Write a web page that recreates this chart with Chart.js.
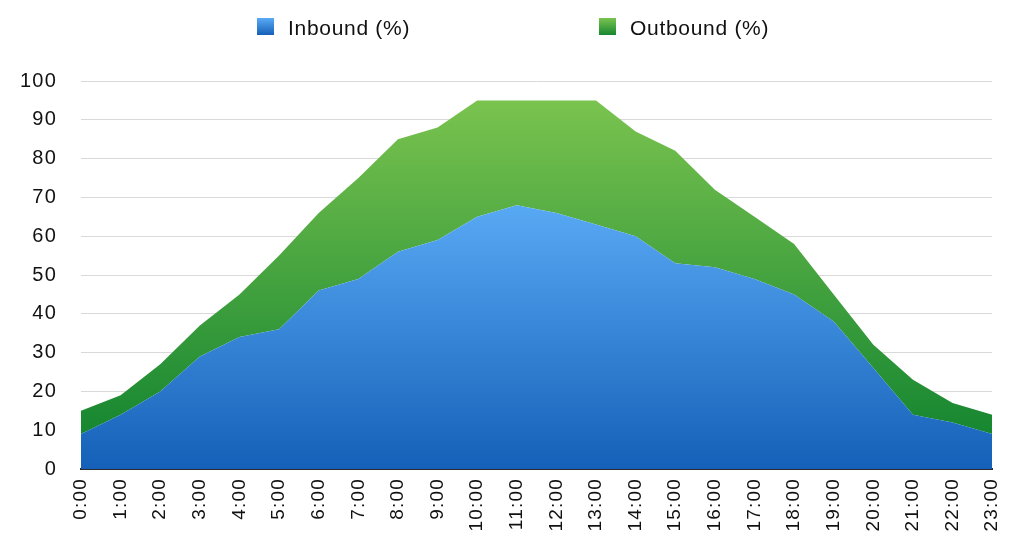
<!DOCTYPE html>
<html lang="en">
<head>
<meta charset="utf-8">
<title>Inbound / Outbound</title>
<script src="https://cdn.jsdelivr.net/npm/chart.js@4.4.1/dist/chart.umd.min.js"></script>
<style>
  html, body { margin: 0; padding: 0; background: #fff; }
  #wrap { position: relative; width: 1024px; height: 549px; }
  #legend { position: absolute; left: 0; top: 16px; width: 1024px; height: 24px;
    font-family: "Liberation Sans", Arial, sans-serif; font-size: 21px; letter-spacing: 0.7px; color: #111; }
  .item { position: absolute; top: 0; white-space: nowrap; line-height: 24px; }
  .box { position: absolute; top: 2px; left: 0; width: 17px; height: 17px; }
  .lbl { position: absolute; left: 31px; top: 0; }
</style>
</head>
<body>
<div id="wrap">
  <canvas id="c" width="1024" height="549"></canvas>
  <div id="legend"></div>
</div>
<script>
// data
var hours = ["0:00","1:00","2:00","3:00","4:00","5:00","6:00","7:00","8:00","9:00","10:00","11:00",
             "12:00","13:00","14:00","15:00","16:00","17:00","18:00","19:00","20:00","21:00","22:00","23:00"];
var inbound  = [9, 14, 20, 29, 34, 36, 46, 49, 56, 59, 65, 68, 66, 63, 60, 53, 52, 49, 45, 38, 26, 14, 12, 9];
var outbound = [6, 5, 7, 8, 11, 19, 20, 26, 29, 29, 30, 27, 29, 32, 27, 29, 20, 16, 13, 7, 6, 9, 5, 5];
var seriesNames = ["Inbound (%)", "Outbound (%)"];
var yTicks = [0, 10, 20, 30, 40, 50, 60, 70, 80, 90, 100];

var blueTop = "#5aabf6", blueBottom = "#1560b8";
var greenTop = "#7ac34f", greenBottom = "#178731";
var fontFam = "'Liberation Sans', Arial, sans-serif";

// gradient spanning given values on the y scale
function grad(ctx, fromVal, toVal, cTop, cBottom) {
  var chart = ctx.chart;
  var y = chart.scales.y;
  if (!y || !chart.chartArea) return cBottom;
  var g = chart.ctx.createLinearGradient(0, y.getPixelForValue(fromVal), 0, y.getPixelForValue(toVal));
  g.addColorStop(0, cTop);
  g.addColorStop(1, cBottom);
  return g;
}

// a little extra letter spacing, the source font runs wider than Arial
var spacing = {
  id: "spacing",
  beforeLayout: function(c) { c.ctx.letterSpacing = "1.2px"; },
  beforeDraw: function(c) { c.ctx.letterSpacing = "1.2px"; }
};

var ctx = document.getElementById("c").getContext("2d");
var chart = new Chart(ctx, {
  type: "line",
  plugins: [spacing],
  data: {
    labels: hours,
    datasets: [{
      label: seriesNames[0],
      data: inbound,
      fill: "origin",
      borderWidth: 0,
      pointRadius: 0,
      tension: 0,
      backgroundColor: function(c) { return grad(c, 70, 0, blueTop, blueBottom); }
    }, {
      label: seriesNames[1],
      data: outbound,
      fill: "-1",
      borderWidth: 0,
      pointRadius: 0,
      tension: 0,
      backgroundColor: function(c) { return grad(c, 95, 10, greenTop, greenBottom); }
    }]
  },
  options: {
    responsive: false,
    animation: false,
    layout: { padding: { top: 81, right: 31, left: 0, bottom: 0 } },
    plugins: { legend: { display: false }, tooltip: { enabled: false } },
    scales: {
      x: {
        offset: false,
        grid: { display: false, drawTicks: false },
        border: { display: true, color: "#2a2a2a", width: 2 },
        ticks: {
          autoSkip: false, maxRotation: 90, minRotation: 90, padding: 9,
          color: "#111", font: { family: fontFam, size: 19 }
        },
        afterFit: function(s) { s.height = 80; }
      },
      y: {
        stacked: true,
        min: 0, max: 100,
        afterBuildTicks: function(s) { s.ticks = yTicks.map(function(v) { return { value: v }; }); },
        grid: { color: "#d9d9d9", lineWidth: 1, drawTicks: false },
        border: { display: false },
        ticks: {
          padding: 24, color: "#111",
          font: { family: fontFam, size: 20 }
        },
        afterFit: function(s) { s.width = 81; }
      }
    }
  }
});

// legend as html, built from the datasets
var legend = document.getElementById("legend");
var legendX = [257, 599];
var boxGrads = [[blueTop, blueBottom], [greenTop, greenBottom]];
chart.data.datasets.forEach(function(ds, i) {
  var it = document.createElement("div");
  it.className = "item";
  it.style.left = legendX[i] + "px";
  var b = document.createElement("span");
  b.className = "box";
  b.style.background = "linear-gradient(" + boxGrads[i][0] + "," + boxGrads[i][1] + ")";
  var t = document.createElement("span");
  t.className = "lbl";
  t.textContent = ds.label;
  it.appendChild(b);
  it.appendChild(t);
  legend.appendChild(it);
});
</script>
</body>
</html>
